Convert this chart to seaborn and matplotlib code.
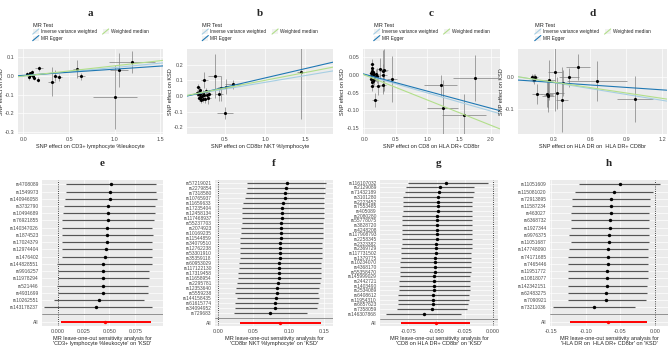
import numpy as np
import matplotlib
matplotlib.use("Agg")
import matplotlib.pyplot as plt
import seaborn as sns
from matplotlib.lines import Line2D
from matplotlib.patches import Rectangle
from matplotlib.legend_handler import HandlerBase
from matplotlib.ticker import FormatStrFormatter

# MR methods shown as lines in the scatter panels
methods = ["Inverse variance weighted", "MR Egger", "Weighted median"]
method_colors = ["#a6cee3", "#1f78b4", "#b2df8a"]

# ---- panel a: CD3+ lymphocyte %leukocyte ----
a_bx = [0.044, 0.067, 0.080, 0.056, 0.100, 0.110, 0.155, 0.170, 0.310, 0.350, 0.390, 0.585, 0.630, 1.000, 1.050, 1.190, 0.070, 0.090]
a_by = [0.012, 0.016, 0.012, -0.007, 0.000, -0.010, -0.019, 0.041, -0.031, 0.003, -0.007, 0.038, -0.002, -0.112, 0.033, 0.076, 0.005, 0.020]
a_sx = [0.010, 0.010, 0.012, 0.010, 0.015, 0.015, 0.020, 0.040, 0.040, 0.030, 0.030, 0.040, 0.040, 0.240, 0.100, 0.250, 0.010, 0.012]
a_sy = [0.010, 0.008, 0.010, 0.012, 0.010, 0.012, 0.015, 0.012, 0.078, 0.030, 0.020, 0.050, 0.020, 0.170, 0.090, 0.060, 0.010, 0.010]
a_slope = [0.046, 0.033, 0.055]
a_icpt = [0.0, 0.004, 0.0]

# ---- panel b: CD8br NKT %lymphocyte ----
b_bx = [0.17, 0.18, 0.19, 0.17, 0.19, 0.20, 0.21, 0.23, 0.24, 0.25, 0.26, 0.30, 0.31, 0.38, 0.43, 0.45, 0.50, 0.52, 0.60, 1.45, 0.16, 0.22, 0.27, 0.20, 0.18, 0.23, 0.28]
b_by = [0.057, 0.028, 0.040, 0.010, -0.004, -0.015, -0.026, 0.017, 0.006, 0.100, -0.017, -0.010, 0.010, 0.130, 0.010, 0.048, -0.110, 0.060, 0.074, 0.150, 0.020, 0.000, 0.030, 0.012, -0.010, -0.020, 0.005]
b_sx = [0.02, 0.02, 0.02, 0.02, 0.02, 0.02, 0.02, 0.03, 0.03, 0.04, 0.03, 0.03, 0.04, 0.08, 0.05, 0.05, 0.10, 0.10, 0.10, 0.06, 0.02, 0.02, 0.03, 0.02, 0.02, 0.02, 0.03]
b_sy = [0.02, 0.02, 0.02, 0.015, 0.015, 0.02, 0.02, 0.02, 0.02, 0.05, 0.03, 0.04, 0.03, 0.14, 0.04, 0.08, 0.04, 0.05, 0.03, 0.30, 0.02, 0.02, 0.02, 0.02, 0.02, 0.02, 0.02]
b_slope = [0.087, 0.120, 0.100]
b_icpt = [0.0, -0.005, 0.0]

# ---- panel c: CD8 on HLA DR+ CD8br ----
c_bx = [0.12, 0.13, 0.12, 0.135, 0.146, 0.11, 0.16, 0.125, 0.17, 0.20, 0.22, 0.25, 0.29, 0.30, 0.32, 0.30, 0.44, 0.146, 1.21, 1.24, 1.58, 1.76, 0.10, 0.14, 0.18, 0.11, 0.15, 0.19, 0.13]
c_by = [0.030, 0.020, 0.010, 0.006, 0.001, -0.004, -0.013, -0.031, -0.071, -0.002, -0.031, 0.017, -0.029, 0.011, 0.013, 0.000, -0.013, -0.018, -0.030, -0.095, -0.114, -0.010, 0.004, 0.008, -0.006, -0.012, -0.003, 0.002, -0.020]
c_sx = [0.03, 0.03, 0.03, 0.03, 0.03, 0.03, 0.04, 0.03, 0.04, 0.05, 0.05, 0.05, 0.05, 0.06, 0.06, 0.06, 0.08, 0.04, 0.26, 0.24, 0.35, 0.36, 0.03, 0.03, 0.04, 0.03, 0.03, 0.04, 0.03]
c_sy = [0.015, 0.015, 0.012, 0.012, 0.012, 0.012, 0.015, 0.015, 0.020, 0.020, 0.025, 0.030, 0.025, 0.060, 0.060, 0.030, 0.065, 0.015, 0.030, 0.080, 0.060, 0.065, 0.012, 0.012, 0.012, 0.012, 0.012, 0.015, 0.015]
c_slope = [-0.051, -0.048, -0.071]
c_icpt = [0.0, 0.002, 0.0]

# ---- panel d: HLA DR on HLA DR+ CD8br ----
d_bx = [0.119, 0.131, 0.136, 0.144, 0.156, 0.239, 0.247, 0.253, 0.261, 0.308, 0.322, 0.364, 0.378, 0.425, 0.503, 0.656, 0.975, 0.125]
d_by = [-0.002, -0.011, -0.003, 0.000, -0.053, -0.053, -0.058, -0.056, -0.010, 0.015, -0.050, -0.070, -0.020, -0.002, 0.030, -0.013, -0.068, -0.005]
d_sx = [0.02, 0.02, 0.02, 0.02, 0.04, 0.05, 0.05, 0.04, 0.05, 0.06, 0.06, 0.05, 0.06, 0.08, 0.10, 0.25, 0.15, 0.02]
d_sy = [0.010, 0.012, 0.010, 0.010, 0.030, 0.040, 0.050, 0.040, 0.060, 0.120, 0.050, 0.100, 0.040, 0.030, 0.040, 0.060, 0.070, 0.010]
d_slope = [-0.060, -0.025, -0.055]
d_icpt = [0.0, -0.010, 0.0]

# ---- leave-one-out (panel e) ----
e_snps = ["rs4708089", "rs1549973", "rs140946058", "rs3732790", "rs10494689", "rs76921855", "rs140347026", "rs1874523", "rs17024379",
          "rs12974404", "rs1476402", "rs144828551", "rs9916257", "rs11978294", "rs521446", "rs4931699", "rs10262551", "rs143178237"]
e_b = [0.0513, 0.0506, 0.0503, 0.0490, 0.0487, 0.0481, 0.0474, 0.0471, 0.0471, 0.0464, 0.0461, 0.0438, 0.0435, 0.0435, 0.0432, 0.0432, 0.0399, 0.0373]
e_lo = [0.0081, 0.0075, 0.0068, 0.0055, 0.0052, 0.0042, 0.0042, 0.0039, 0.0039, 0.0036, 0.0036, -0.0010, 0.0000, 0.0003, -0.0010, -0.0003, -0.0039, -0.0136]
e_hi = [0.0951, 0.0951, 0.0958, 0.0942, 0.0942, 0.0932, 0.0916, 0.0919, 0.0912, 0.0909, 0.0912, 0.0912, 0.0883, 0.0883, 0.0877, 0.0877, 0.0838, 0.0909]
e_all = [0.0461, 0.0032, 0.0899]

# ---- leave-one-out (panel f) ----
f_snps = ["rs57219021", "rs2279854", "rs7318580", "rs10765937", "rs11659633", "rs17235404", "rs12458134", "rs117468937", "rs55237703",
          "rs2074923", "rs10169235", "rs11544859", "rs34079510", "rs12762238", "rs53301910", "rs35359118", "rs60953029", "rs117122130",
          "rs17319458", "rs11658954", "rs2295781", "rs12353640", "rs5559238", "rs144158435", "rs61615774", "rs34094952", "rs729683"]
f_b = [0.0972, 0.0963, 0.0945, 0.0940, 0.0918, 0.0909, 0.0905, 0.0900, 0.0891, 0.0887, 0.0887, 0.0882, 0.0878, 0.0873, 0.0873, 0.0869,
       0.0864, 0.0864, 0.0860, 0.0855, 0.0842, 0.0833, 0.0828, 0.0820, 0.0811, 0.0806, 0.0730]
f_lo = [0.0412, 0.0412, 0.0390, 0.0381, 0.0358, 0.0345, 0.0336, 0.0345, 0.0336, 0.0327, 0.0327, 0.0318, 0.0318, 0.0313, 0.0309, 0.0305,
        0.0291, 0.0291, 0.0282, 0.0282, 0.0269, 0.0255, 0.0246, 0.0269, 0.0237, 0.0246, 0.0224]
f_hi = [0.1523, 0.1514, 0.1505, 0.1500, 0.1491, 0.1491, 0.1491, 0.1491, 0.1478, 0.1478, 0.1478, 0.1478, 0.1469, 0.1469, 0.1464, 0.1460,
        0.1455, 0.1455, 0.1451, 0.1451, 0.1433, 0.1424, 0.1411, 0.1420, 0.1402, 0.1388, 0.1254]
f_all = [0.0873, 0.0305, 0.1455]

# ---- leave-one-out (panel g) ----
g_snps = ["rs116107032", "rs2129089", "rs71432189", "rs3101280", "rs2223452", "rs7553485", "rs405089", "rs2080280", "rs55778075",
          "rs3828720", "rs4248208", "rs117908793", "rs2258345", "rs2323382", "rs2369729", "rs117731502", "rs1379775", "rs10234070",
          "rs4368170", "rs55358470", "rs145999029", "rs2442721", "rs1403490", "rs2534089", "rs6408612", "rs11954310", "rs6857623",
          "rs7358059", "rs146307868"]
g_b = [-0.0412, -0.0471, -0.0479, -0.0491, -0.0491, -0.0491, -0.0491, -0.0494, -0.0494, -0.0497, -0.0497, -0.0500, -0.0500, -0.0503,
       -0.0506, -0.0506, -0.0509, -0.0512, -0.0515, -0.0515, -0.0518, -0.0521, -0.0524, -0.0526, -0.0529, -0.0532, -0.0535, -0.0544, -0.0609]
g_lo = [-0.0756, -0.0771, -0.0779, -0.0794, -0.0800, -0.0800, -0.0800, -0.0803, -0.0803, -0.0806, -0.0806, -0.0809, -0.0809, -0.0809,
        -0.0812, -0.0815, -0.0818, -0.0821, -0.0824, -0.0824, -0.0826, -0.0829, -0.0832, -0.0835, -0.0838, -0.0844, -0.0844, -0.0853, -0.0947]
g_hi = [-0.0044, -0.0168, -0.0171, -0.0176, -0.0182, -0.0182, -0.0182, -0.0182, -0.0182, -0.0185, -0.0185, -0.0185, -0.0185, -0.0188,
        -0.0188, -0.0191, -0.0191, -0.0194, -0.0197, -0.0197, -0.0200, -0.0200, -0.0203, -0.0206, -0.0209, -0.0212, -0.0221, -0.0226, -0.0279]
g_all = [-0.0506, -0.0818, -0.0200]

# ---- leave-one-out (panel h) ----
h_snps = ["rs11051609", "rs115081020", "rs72913895", "rs11587234", "rs463027", "rs6368732", "rs1927344", "rs9976375", "rs11051687",
          "rs147748090", "rs74171685", "rs7465446", "rs11951772", "rs10818077", "rs142342151", "rs62483275", "rs7090921", "rs73211036"]
h_b = [-0.0506, -0.0586, -0.0633, -0.0638, -0.0642, -0.0647, -0.0652, -0.0661, -0.0666, -0.0675, -0.0680, -0.0684, -0.0689, -0.0694,
       -0.0694, -0.0703, -0.0713, -0.0877]
h_lo = [-0.1102, -0.1163, -0.1195, -0.1195, -0.1219, -0.1219, -0.1219, -0.1242, -0.1219, -0.1242, -0.1252, -0.1256, -0.1256, -0.1266,
        -0.1266, -0.1266, -0.1266, -0.1477]
h_hi = [0.0080, -0.0023, -0.0070, -0.0070, -0.0080, -0.0080, -0.0080, -0.0084, -0.0084, -0.0094, -0.0103, -0.0103, -0.0103, -0.0103,
        -0.0108, -0.0117, -0.0127, -0.0281]
h_all = [-0.0680, -0.1233, -0.0108]

exposures = ["CD3+ lymphocyte %leukocyte", "CD8br NKT %lymphocyte", "CD8 on HLA DR+ CD8br", "HLA DR on  HLA DR+ CD8br"]

sns.set_theme(style="darkgrid", rc={"axes.facecolor": "#EBEBEB", "grid.color": "white", "grid.linewidth": 0.5})
plt.rcParams["font.family"] = ["Liberation Sans", "DejaVu Sans"]

fig = plt.figure(figsize=(6.69, 3.5), dpi=100)
W, H = 669, 350


def add_ax(x0, x1, y0, y1):
    return fig.add_axes([x0 / W, 1 - y1 / H, (x1 - x0) / W, (y1 - y0) / H])


class DiagHandler(HandlerBase):
    # ggplot-like legend key: grey square with a diagonal line
    def create_artists(self, legend, orig, xd, yd, w, h, fs, trans):
        bg = Rectangle((-xd, -yd), w, h, fc="#F2F2F2", ec="none", transform=trans)
        ln = Line2D([-xd, -xd + w], [-yd, -yd + h], color=orig.get_color(), lw=0.8, transform=trans)
        return [bg, ln]


def style_ax(ax, fs=4):
    ax.tick_params(axis="both", labelsize=fs, length=1.5, width=0.4, color="#333333", pad=1, labelcolor="#4D4D4D")
    for s in ax.spines.values():
        s.set_visible(False)


def scatter_panel(ax, bx, by, sx, sy, slopes, icpts, xlim, ylim, xticks, yticks, yfmt, exposure):
    bx, by, sx, sy = map(np.asarray, (bx, by, sx, sy))
    ax.vlines(bx, by - sy, by + sy, color="grey", lw=0.5, zorder=2)
    ax.hlines(by, bx - sx, bx + sx, color="grey", lw=0.5, zorder=2)
    sns.scatterplot(x=bx, y=by, color="black", s=5, linewidth=0, ax=ax, zorder=3)
    for c, s, i in zip(method_colors, slopes, icpts):
        ax.axline((0, i), slope=s, color=c, lw=0.8, zorder=4)
    ax.set_xlim(xlim)
    ax.set_ylim(ylim)
    ax.set_xticks(xticks)
    ax.set_yticks(yticks)
    ax.xaxis.set_major_formatter(FormatStrFormatter("%.1f"))
    ax.yaxis.set_major_formatter(FormatStrFormatter(yfmt))
    ax.set_xlabel("SNP effect on " + exposure, fontsize=4, labelpad=1)
    ax.set_ylabel("SNP effect on KSD", fontsize=4, labelpad=1)
    style_ax(ax)
    handles = [Line2D([], [], color=c) for c in method_colors]
    ax.legend(handles, methods, handler_map={Line2D: DiagHandler()}, loc="lower center", bbox_to_anchor=(0.5, 1.07),
              ncol=2, frameon=False, fontsize=3.4, title="MR Test", title_fontsize=4, alignment="left",
              handlelength=1.3, handleheight=1.3, handletextpad=0.4, columnspacing=1.2, labelspacing=0.3, borderpad=0)


def forest_panel(ax, snps, b, lo, hi, allv, xlim, xticks, xfmt, exposure):
    n = len(snps)
    pos = np.arange(n + 2, 2, -1)
    ax.axvline(0, color="black", ls=":", lw=0.6, zorder=2)
    ax.axhline(2, color="grey", lw=0.6, zorder=2)
    ax.hlines(pos, lo, hi, color="#555555", lw=0.85, zorder=3)
    sns.scatterplot(x=b, y=pos, color="black", s=6, linewidth=0, ax=ax, zorder=4)
    ax.hlines([1], [allv[1]], [allv[2]], color="red", lw=1.4, zorder=3)
    sns.scatterplot(x=[allv[0]], y=[1], color="red", s=6, linewidth=0, ax=ax, zorder=4)
    ax.set_yticks([1, 2] + list(pos))
    ax.set_yticklabels(["All", ""] + list(snps))
    ax.set_ylim(0.4, n + 2.6)
    ax.set_xlim(xlim)
    ax.set_xticks(xticks)
    ax.xaxis.set_major_formatter(FormatStrFormatter(xfmt))
    ax.set_xlabel("MR leave-one-out sensitivity analysis for\n'" + exposure + "' on 'KSD'", fontsize=4, labelpad=1,
                  linespacing=1.0)
    style_ax(ax)
    ax.tick_params(axis="y", labelsize=3.5)


# top row
ax_a = add_ax(18, 163, 49, 134)
scatter_panel(ax_a, a_bx, a_by, a_sx, a_sy, a_slope, a_icpt, (-0.06, 1.53), (-0.31, 0.145),
              [0.0, 0.5, 1.0, 1.5], [-0.3, -0.2, -0.1, 0.0, 0.1], "%.1f", exposures[0])
ax_b = add_ax(187, 333, 49, 134)
scatter_panel(ax_b, b_bx, b_by, b_sx, b_sy, b_slope, b_icpt, (0.035, 1.84), (-0.243, 0.3),
              [0.5, 1.0, 1.5], [-0.2, -0.1, 0.0, 0.1, 0.2], "%.1f", exposures[1])
ax_c = add_ax(363, 500, 49, 134)
scatter_panel(ax_c, c_bx, c_by, c_sx, c_sy, c_slope, c_icpt, (-0.02, 2.15), (-0.167, 0.073),
              [0.0, 0.5, 1.0, 1.5, 2.0], [-0.15, -0.10, -0.05, 0.0, 0.05], "%.2f", exposures[2])
ax_d = add_ax(518, 667, 49, 134)
scatter_panel(ax_d, d_bx, d_by, d_sx, d_sy, d_slope, d_icpt, (0.0, 1.24), (-0.175, 0.085),
              [0.3, 0.6, 0.9, 1.2], [-0.1, 0.0], "%.1f", exposures[3])

# bottom row
ax_e = add_ax(42, 163, 180, 326)
forest_panel(ax_e, e_snps, e_b, e_lo, e_hi, e_all, (-0.0156, 0.102), [0.0, 0.025, 0.05, 0.075], "%.3f", exposures[0])
ax_f = add_ax(215, 333, 180, 326)
forest_panel(ax_f, f_snps, f_b, f_lo, f_hi, f_all, (-0.004, 0.162), [0.0, 0.05, 0.10, 0.15], "%.2f", exposures[1])
ax_g = add_ax(380, 498, 180, 326)
forest_panel(ax_g, g_snps, g_b, g_lo, g_hi, g_all, (-0.1, 0.0044), [-0.075, -0.05, -0.025, 0.0], "%.3f", exposures[2])
ax_h = add_ax(550, 668, 180, 326)
forest_panel(ax_h, h_snps, h_b, h_lo, h_hi, h_all, (-0.152, 0.019), [-0.15, -0.10, -0.05, 0.0], "%.2f", exposures[3])

# panel letters
for ax, letter, ytop in [(ax_a, "a", 13), (ax_b, "b", 13), (ax_c, "c", 13), (ax_d, "d", 13),
                         (ax_e, "e", 163), (ax_f, "f", 163), (ax_g, "g", 163), (ax_h, "h", 163)]:
    bb = ax.get_position()
    fig.text((bb.x0 + bb.x1) / 2, 1 - ytop / H, letter, ha="center", va="center", fontsize=8,
             fontweight="bold", family="Liberation Serif")

fig.savefig("out.png", dpi=100)
